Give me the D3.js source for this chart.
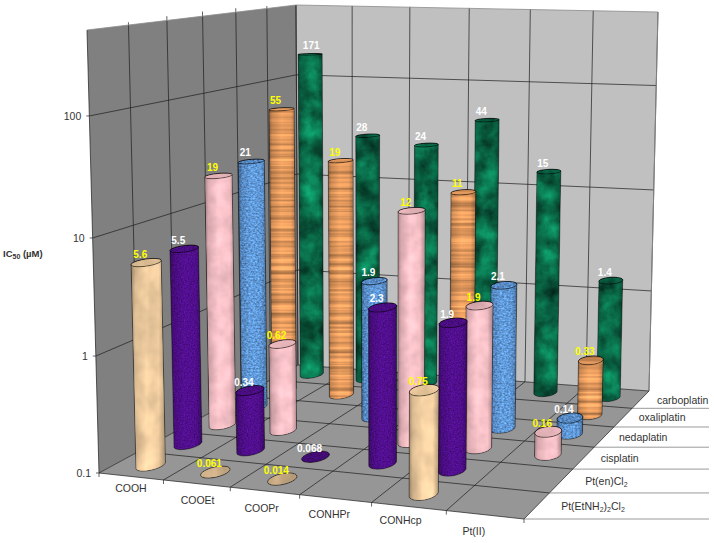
<!DOCTYPE html>
<html>
<head>
  <title>IC50 3D cylinders</title>
  <script src="https://d3js.org/d3.v7.min.js"></script>
  <style>
    html, body { margin: 0; background: #fff; }
    svg { display: block; }
    text { font-family: "Liberation Sans", Arial, sans-serif; }
    .tick-label { font-size: 10.5px; fill: #333; }
    .cat-label { font-size: 10.5px; fill: #333; text-anchor: middle; }
    .val-label { font-size: 10px; font-weight: bold; text-anchor: middle; }
    .axis-title { font-size: 9.5px; font-weight: bold; fill: #333; }
  </style>
</head>
<body>
  <div id="chart"></div>
  <script>
    const categories = ["COOH", "COOEt", "COOPr", "CONHPr", "CONHcp", "Pt(II)"];
    const seriesNames = ["Pt(EtNH2)2Cl2", "Pt(en)Cl2", "cisplatin", "nedaplatin", "oxaliplatin", "carboplatin"];
    const tickValues = [0.1, 1, 10, 100];

    const ptEtnh2 = [5.6, 0.061, 0.014, null, 0.75, null];
    const ptEn = [5.5, 0.34, 0.068, 2.3, 1.9, null];
    const cisplatin = [19, 0.62, null, 12, 1.9, 0.16];
    const nedaplatin = [21, null, 1.9, null, 2.1, 0.14];
    const oxaliplatin = [55, 19, null, 11, null, 0.33];
    const carboplatin = [171, 28, 24, 44, 15, 1.4];
    const seriesValues = [ptEtnh2, ptEn, cisplatin, nedaplatin, oxaliplatin, carboplatin];

    // label nudges, front row labels and right hand row labels
    const catDx = [0, 1, -3, -6, -8, -11];
    const catDy = [11.5, 16, 17, 15, 13, 16];
    const rowDx = [56, 45, 36, 39, 39, 42];

    // one look per series, front to back
    const looks = [
      {base: "#f0cda0", freq: "0.05 0.035", oct: 3, c: 0.16, blur: 0.5, label: "#ffff00"},
      {base: "#500e8c", freq: "0.7", oct: 2, c: 0.4, blur: 0.4, label: "#ffffff"},
      {base: "#f5c0c6", freq: "0.06", oct: 3, c: 0.12, blur: 0.5, label: "#ffff00"},
      {base: "#5f97d6", freq: "0.45 0.6", oct: 2, c: 0.42, blur: 0.4, label: "#ffffff"},
      {base: "#e2985c", freq: "0.003 0.24", oct: 3, c: 0.42, blur: 0.4, label: "#ffff00"},
      {base: "#0a6a48", freq: "0.05", oct: 4, c: 0.75, blur: 0.5, label: "#ffffff"}
    ];

    const width = 714, height = 543;

    // floor corners on the page: front left, front right, back right, back left
    const floorQuad = [[99, 473], [524, 519], [649, 391], [298, 365]];
    // offset from each floor corner up to the top of the plot box
    const riseFL = [-12, -443], riseFR = [6, -460], riseBR = [9, -379], riseBL = [-2, -360];

    function homography(q) {
      const [[x0, y0], [x1, y1], [x2, y2], [x3, y3]] = q;
      const dx1 = x1 - x2, dx2 = x3 - x2, sx = x0 - x1 + x2 - x3;
      const dy1 = y1 - y2, dy2 = y3 - y2, sy = y0 - y1 + y2 - y3;
      const det = dx1 * dy2 - dx2 * dy1;
      const g = (sx * dy2 - dx2 * sy) / det, h = (dx1 * sy - sx * dy1) / det;
      const a = x1 - x0 + g * x1, b = x3 - x0 + h * x3;
      const d = y1 - y0 + g * y1, e = y3 - y0 + h * y3;
      return (u, v) => {
        const w = g * u + h * v + 1;
        return [(a * u + b * v + x0) / w, (d * u + e * v + y0) / w];
      };
    }
    const floorH = homography(floorQuad);

    const xScale = d3.scaleBand().domain(categories).range([0, 1]);
    const zScale = d3.scaleBand().domain(seriesNames).range([0, 1]);
    // decades shrink a little going up, the breaks follow the ticks on the left wall
    const yScale = d3.scaleLog().domain([0.1, 1, 10, 100, 525]).range([0, 0.264, 0.5305, 0.806, 1]).clamp(true);

    const project = (u, v, t) => {
      const a = floorH(u, v);
      const rise = i => (1 - v) * ((1 - u) * riseFL[i] + u * riseFR[i]) + v * ((1 - u) * riseBL[i] + u * riseBR[i]);
      return [a[0] + rise(0) * t, a[1] + rise(1) * t];
    };
    const line = d3.line();
    const closed = pts => line(pts) + "Z";

    const svg = d3.select("#chart").append("svg")
      .attr("width", width).attr("height", height);
    const defs = svg.append("defs");

    // bark, marble and parchment textures come from turbulence multiplied into the fill
    looks.forEach((look, i) => {
      const f = defs.append("filter").attr("id", "tex" + i)
        .attr("color-interpolation-filters", "sRGB");
      f.append("feTurbulence").attr("type", "fractalNoise")
        .attr("baseFrequency", look.freq).attr("numOctaves", look.oct)
        .attr("seed", i + 3).attr("result", "noise");
      const b = 0.5 - look.c / 2;
      f.append("feColorMatrix").attr("in", "noise").attr("type", "matrix")
        .attr("values", `${look.c} 0 0 0 ${b} ${look.c} 0 0 0 ${b} ${look.c} 0 0 0 ${b} 0 0 0 0 1`)
        .attr("result", "grey");
      f.append("feComposite").attr("in", "SourceGraphic").attr("in2", "grey")
        .attr("operator", "arithmetic").attr("k1", 2).attr("k2", 0).attr("k3", 0).attr("k4", 0)
        .attr("result", "mix");
      f.append("feComposite").attr("in", "mix").attr("in2", "SourceAlpha").attr("operator", "in")
        .attr("result", "cut");
      f.append("feGaussianBlur").attr("in", "cut").attr("stdDeviation", look.blur);

      const grad = defs.append("linearGradient").attr("id", "shade" + i);
      const c = d3.color(look.base);
      [[0, c.darker(1.1)], [0.12, c.darker(0.35)], [0.45, c.brighter(0.12)], [0.8, c], [1, c.darker(0.9)]]
        .forEach(([o, col]) => grad.append("stop").attr("offset", o).attr("stop-color", col));
    });

    // walls and floor
    const wallRange = d3.range(0, 7).map(d => d / 6);
    svg.append("path").attr("fill", "#808080")
      .attr("d", closed([project(0, 0, 0), project(0, 1, 0), project(0, 1, 1), project(0, 0, 1)]));
    svg.append("path").attr("fill", "#c0c0c0")
      .attr("d", closed([project(0, 1, 0), project(1, 1, 0), project(1, 1, 1), project(0, 1, 1)]));
    svg.append("path").attr("fill", "#969696")
      .attr("d", closed(floorQuad));

    const grid = svg.append("g").attr("fill", "none").attr("stroke", "#1c1c1c").attr("stroke-width", 0.7);
    wallRange.forEach(f => {
      grid.append("path").attr("d", line([project(0, f, 0), project(0, f, 1)]));
      grid.append("path").attr("d", line([project(f, 1, 0), project(f, 1, 1)]));
      grid.append("path").attr("d", line([project(f, 0, 0), project(f, 1, 0)]));
      grid.append("path").attr("d", line([project(0, f, 0), project(1, f, 0)]));
    });
    tickValues.slice(1).forEach(v => {
      const t = yScale(v);
      grid.append("path").attr("d", line([project(0, 0, t), project(0, 1, t), project(1, 1, t)]));
    });
    svg.append("path").attr("fill", "none").attr("stroke", "#8c8c8c").attr("stroke-width", 0.8)
      .attr("d", line([project(0, 0, 1), project(0, 1, 1), project(1, 1, 1), project(1, 1, 0)]));

    // value axis
    tickValues.forEach(v => {
      const p = project(0, 0, yScale(v));
      svg.append("path").attr("stroke", "#222").attr("stroke-width", 0.7)
        .attr("d", line([[p[0] - 3, p[1]], p]));
      svg.append("text").attr("class", "tick-label")
        .attr("x", p[0] - 8).attr("y", p[1] + 4).attr("text-anchor", "end").text(v);
    });

    const title = svg.append("text").attr("class", "axis-title").attr("x", 3).attr("y", 257);
    title.append("tspan").text("IC");
    title.append("tspan").attr("font-size", 7).attr("dy", 2).text("50");
    title.append("tspan").attr("dy", -2).text(" (µM)");

    // category axis along the front edge
    wallRange.forEach(f => {
      const p = project(f, 0, 0);
      svg.append("path").attr("stroke", "#222").attr("stroke-width", 0.7)
        .attr("d", line([p, [p[0], p[1] + 4]]));
    });
    categories.forEach((c, i) => {
      const p = project(xScale(c) + xScale.bandwidth() / 2, 0, 0);
      svg.append("text").attr("class", "cat-label")
        .attr("x", p[0] + catDx[i]).attr("y", p[1] + catDy[i] + 4).text(c);
    });

    // series axis along the right edge, the ruled lines run out to the page side
    seriesNames.forEach((s, i) => {
      const edge = project(1, zScale(s), 0);
      svg.append("path").attr("stroke", "#555").attr("stroke-width", 0.6)
        .attr("d", line([edge, [709, edge[1]]]));
      const mid = project(1, zScale(s) + zScale.bandwidth() / 2, 0);
      const label = svg.append("text").attr("class", "cat-label")
        .attr("x", mid[0] + rowDx[i]).attr("y", mid[1] + 4);
      // digits in the formulas are subscripts
      s.split(/(\d)/).forEach((part, k) => {
        if (!part) return;
        if (k % 2) {
          label.append("tspan").attr("font-size", 7).attr("dy", 2).text(part);
        } else {
          label.append("tspan").attr("dy", k ? -2 : 0).text(part);
        }
      });
    });

    // cylinders, back row first
    const rx = 0.17 * xScale.bandwidth(), rz = 0.26 * zScale.bandwidth();
    const ring = (u, v, t) => d3.range(0, 40).map(a => {
      const th = a / 40 * 2 * Math.PI;
      return project(u + rx * Math.cos(th), v + rz * Math.sin(th), t);
    });

    const labels = [];
    d3.range(seriesNames.length - 1, -1, -1).forEach(si => {
      const look = looks[si];
      const v = zScale(seriesNames[si]) + zScale.bandwidth() / 2;
      seriesValues[si].forEach((val, ci) => {
        if (val === null) return;
        const u = xScale(categories[ci]) + xScale.bandwidth() / 2;
        const t = yScale(val);
        const top = ring(u, v, t);
        const bar = svg.append("g");
        if (t > 0) {
          const hull = d3.polygonHull(ring(u, v, 0).concat(top));
          bar.append("path").attr("d", closed(hull))
            .attr("fill", `url(#shade${si})`).attr("filter", `url(#tex${si})`);
          bar.append("path").attr("d", closed(hull))
            .attr("fill", "none").attr("stroke", "#000").attr("stroke-opacity", 0.55).attr("stroke-width", 0.7);
        }
        const cap = d3.color(look.base);
        bar.append("path").attr("d", closed(top))
          .attr("fill", cap.darker(t > 0 ? 0.25 : 0.55)).attr("filter", `url(#tex${si})`);
        bar.append("path").attr("d", closed(top))
          .attr("fill", "none").attr("stroke", "#000").attr("stroke-opacity", 0.7).attr("stroke-width", 0.7);
        const p = project(u, v, t);
        labels.push({x: p[0] + (val > 100 ? 1 : -6), y: p[1] - 5, text: val, color: look.label});
      });
    });

    svg.selectAll(".val-label").data(labels).join("text")
      .attr("class", "val-label")
      .attr("x", d => d.x).attr("y", d => d.y)
      .attr("fill", d => d.color)
      .text(d => d.text);
  </script>
</body>
</html>
